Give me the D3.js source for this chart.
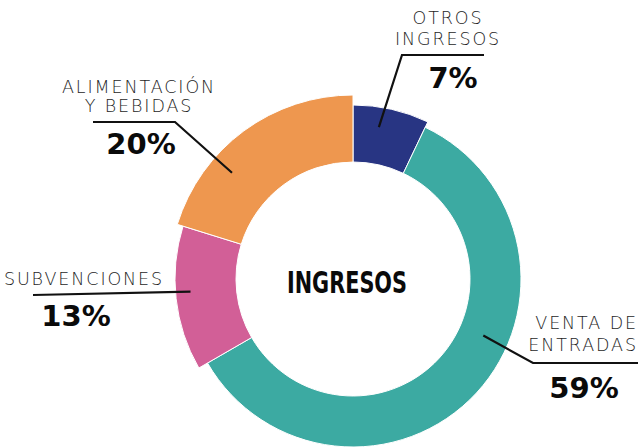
<!DOCTYPE html>
<html>
<head>
<meta charset="utf-8">
<script src="https://cdn.jsdelivr.net/npm/d3@7"></script>
<style>
  html, body { margin: 0; padding: 0; background: #ffffff; }
  svg { display: block; }
</style>
</head>
<body>
<svg id="chart" width="638" height="448"></svg>
<script>
// Income breakdown (%), clockwise from the top
const categories = ["OTROS INGRESOS", "VENTA DE ENTRADAS", "SUBVENCIONES", "ALIMENTACIÓN Y BEBIDAS"];
const labelLines = [["OTROS", "INGRESOS"], ["VENTA DE", "ENTRADAS"], ["SUBVENCIONES"], ["ALIMENTACIÓN", "Y BEBIDAS"]];
const values = [7, 59, 13, 20];
const colors = ["#283583", "#3caaa2", "#d25f97", "#ee974f"];
const centerTitle = "INGRESOS";

// Ring geometry: each slice has its own outer radius
const cx = 353, cy = 279;
const innerR = 117;
const outerR = [174, 168, 178, 184];

// Callout layout per slice: where the leader starts inside the slice (fraction of its
// angular span + radius), its elbow / end points, and the text placement.
const callouts = [
  { t: 0.38, r: 154, path: [[402, 55], [484, 55]], x: 448, anchor: "middle", lineY: [24, 45], pctX: 453, pctY: 88 },
  { t: 0.41, r: 142, path: [[533, 363], [640, 363]], x: 638, anchor: "end", lineY: [329, 351], pctX: 584, pctY: 398 },
  { t: 0.54, r: 163, path: [[33, 295]], x: 84, anchor: "middle", lineY: [285], pctX: 76, pctY: 326 },
  { t: 0.33, r: 161, path: [[175, 122], [93, 122]], x: 139, anchor: "middle", lineY: [93, 112], pctX: 141, pctY: 154 }
];

const svg = d3.select("#chart");
const g = svg.append("g").attr("transform", `translate(${cx},${cy})`);

const pie = d3.pie().sort(null).value(d => d).startAngle(0).endAngle(2 * Math.PI);
const arcs = pie(values);

g.selectAll("path.slice")
  .data(arcs)
  .join("path")
  .attr("class", "slice")
  .attr("d", (d, i) => d3.arc().innerRadius(innerR).outerRadius(outerR[i])(d))
  .attr("fill", (d, i) => colors[i])
  .attr("stroke", "#ffffff")
  .attr("stroke-width", 1);

// Leader lines
arcs.forEach((d, i) => {
  const c = callouts[i];
  const a = d.startAngle + c.t * (d.endAngle - d.startAngle);
  const p = d3.pointRadial(a, c.r);
  const pts = [[cx + p[0], cy + p[1]], ...c.path];
  svg.append("path")
    .attr("d", d3.line()(pts))
    .attr("fill", "none")
    .attr("stroke", "#111111")
    .attr("stroke-width", 2.2);
});

// Category names
labelLines.forEach((lines, i) => {
  const c = callouts[i];
  lines.forEach((txt, j) => {
    svg.append("text")
      .attr("x", c.x)
      .attr("y", c.lineY[j])
      .attr("text-anchor", c.anchor)
      .attr("font-family", "'DejaVu Sans', sans-serif")
      .attr("font-weight", 200)
      .attr("font-size", 17.5)
      .attr("letter-spacing", 1.9)
      .attr("fill", "#1e1e1e")
      .text(txt);
  });
  svg.append("text")
    .attr("x", c.pctX)
    .attr("y", c.pctY)
    .attr("text-anchor", "middle")
    .attr("font-family", "'DejaVu Sans', sans-serif")
    .attr("font-weight", 700)
    .attr("font-size", 29)
    .attr("fill", "#0a0a0a")
    .text(values[i] + "%");
});

// Centre title
svg.append("text")
  .attr("x", 347)
  .attr("y", 293)
  .attr("text-anchor", "middle")
  .attr("font-family", "'Liberation Sans Narrow', 'DejaVu Sans Condensed', sans-serif")
  .attr("font-weight", 700)
  .attr("font-size", 30)
  .attr("textLength", 120)
  .attr("lengthAdjust", "spacingAndGlyphs")
  .attr("fill", "#0a0a0a")
  .text(centerTitle);
</script>
</body>
</html>
